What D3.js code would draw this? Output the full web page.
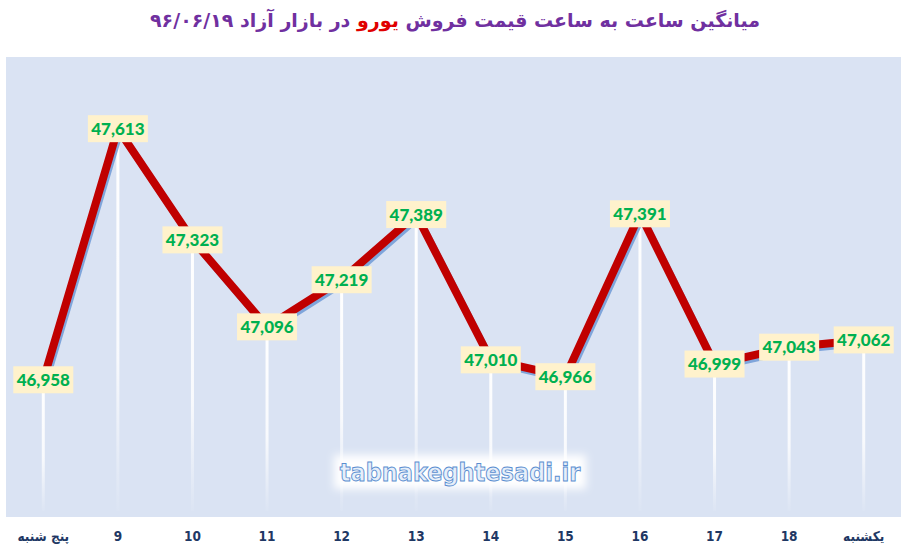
<!DOCTYPE html>
<html>
<head>
<meta charset="utf-8">
<script src="https://cdn.jsdelivr.net/npm/d3@7/dist/d3.min.js"></script>
<style>
  body { margin: 0; background: #fff; }
  svg { display: block; }
</style>
</head>
<body>
<svg id="chart" width="907" height="553"></svg>
<script>
// hours of the day (first / last are day names)
var hours = ["پنج شنبه", "9", "10", "11", "12", "13", "14", "15", "16", "17", "18", "یکشنبه"];
var prices = [46958, 47613, 47323, 47096, 47219, 47389, 47010, 46966, 47391, 46999, 47043, 47062];
var y_domain = [46600, 47800];

var title_before = "میانگین ساعت به ساعت قیمت فروش ";
var title_red = "یورو";
var title_after = " در بازار آزاد ۹۶/۰۶/۱۹";
var watermark = "tabnakeghtesadi.ir";

var svg = d3.select("#chart");
var plot = {left: 6, right: 901, top: 57, bottom: 517};

var x = d3.scaleBand()
  .domain(d3.range(hours.length))
  .range([plot.left, plot.right]);

var y = d3.scaleLinear()
  .domain(y_domain)
  .range([plot.bottom, plot.top]);

var cx = function(i) { return x(i) + x.bandwidth() / 2; };

var defs = svg.append("defs");

// fade for drop lines
var grad = defs.append("linearGradient")
  .attr("id", "dropfade")
  .attr("x1", 0).attr("y1", 0).attr("x2", 0).attr("y2", 1);
grad.append("stop").attr("offset", "0%").attr("stop-color", "#fff").attr("stop-opacity", 1);
grad.append("stop").attr("offset", "60%").attr("stop-color", "#fff").attr("stop-opacity", 0.8);
grad.append("stop").attr("offset", "100%").attr("stop-color", "#fff").attr("stop-opacity", 0.05);

var glow = defs.append("filter").attr("id", "glow")
  .attr("x", "-20%").attr("y", "-40%").attr("width", "140%").attr("height", "180%");
glow.append("feGaussianBlur").attr("stdDeviation", 4);

// plot background
svg.append("rect")
  .attr("x", plot.left)
  .attr("y", plot.top)
  .attr("width", plot.right - plot.left)
  .attr("height", plot.bottom - plot.top)
  .attr("fill", "#dae3f3");

// title
var title = svg.append("text")
  .attr("x", 455)
  .attr("y", 27)
  .attr("direction", "rtl")
  .attr("text-anchor", "middle")
  .style("font-family", "'DejaVu Sans', sans-serif")
  .style("font-weight", "bold")
  .style("font-size", "19px")
  .attr("fill", "#7030a0");
title.append("tspan").text(title_before);
title.append("tspan").attr("fill", "#e00000").text(title_red);
title.append("tspan").text(title_after);

// drop lines
svg.append("g")
  .selectAll("rect")
  .data(prices)
  .enter()
  .append("rect")
  .attr("x", (d, i) => cx(i) - 1.5)
  .attr("y", d => y(d))
  .attr("width", 3)
  .attr("height", d => plot.bottom - 6 - y(d))
  .attr("fill", "url(#dropfade)");

var line = d3.line()
  .x((d, i) => cx(i))
  .y(d => y(d));

// shadow of the line
svg.append("path")
  .datum(prices)
  .attr("d", line)
  .attr("transform", "translate(2,3)")
  .attr("fill", "none")
  .attr("stroke", "#6f9ad6")
  .attr("stroke-width", 7)
  .attr("opacity", 0.85);

svg.append("path")
  .datum(prices)
  .attr("d", line)
  .attr("fill", "none")
  .attr("stroke", "#c00000")
  .attr("stroke-width", 8)
  .attr("stroke-linejoin", "miter");

// data labels
var labels = svg.append("g")
  .selectAll("g")
  .data(prices)
  .enter()
  .append("g")
  .attr("transform", (d, i) => "translate(" + cx(i) + "," + y(d) + ")");

labels.append("rect")
  .attr("x", -30)
  .attr("y", -13.5)
  .attr("width", 60)
  .attr("height", 27)
  .attr("fill", "#fff2cc");

labels.append("text")
  .attr("text-anchor", "middle")
  .attr("dy", "0.36em")
  .style("font-family", "Lato, sans-serif")
  .style("font-weight", "900")
  .style("font-size", "17px")
  .attr("fill", "#00b050")
  .text(d => d3.format(",")(d));

// x axis
var xAxis = svg.append("g")
  .attr("transform", "translate(0," + plot.bottom + ")")
  .call(d3.axisBottom(x).tickSize(0).tickPadding(14).tickFormat(i => hours[i]));
xAxis.select(".domain").remove();
xAxis.selectAll("text")
  .style("font-family", "'DejaVu Sans Condensed', 'DejaVu Sans', sans-serif")
  .style("font-weight", "bold")
  .style("font-size", "13.5px")
  .attr("fill", "#1f3864");

// watermark
var wm = svg.append("g").attr("transform", "translate(460,472)");
wm.append("rect")
  .attr("x", -126).attr("y", -17)
  .attr("width", 252).attr("height", 34)
  .attr("fill", "#fff")
  .attr("filter", "url(#glow)");
wm.append("text")
  .attr("text-anchor", "middle")
  .attr("dy", "0.35em")
  .style("font-family", "'DejaVu Sans Condensed', sans-serif")
  .style("font-weight", "bold")
  .style("font-size", "25px")
  .attr("fill", "#e6effa")
  .attr("stroke", "#5b8ed0")
  .attr("stroke-width", 0.9)
  .text(watermark);
</script>
</body>
</html>
